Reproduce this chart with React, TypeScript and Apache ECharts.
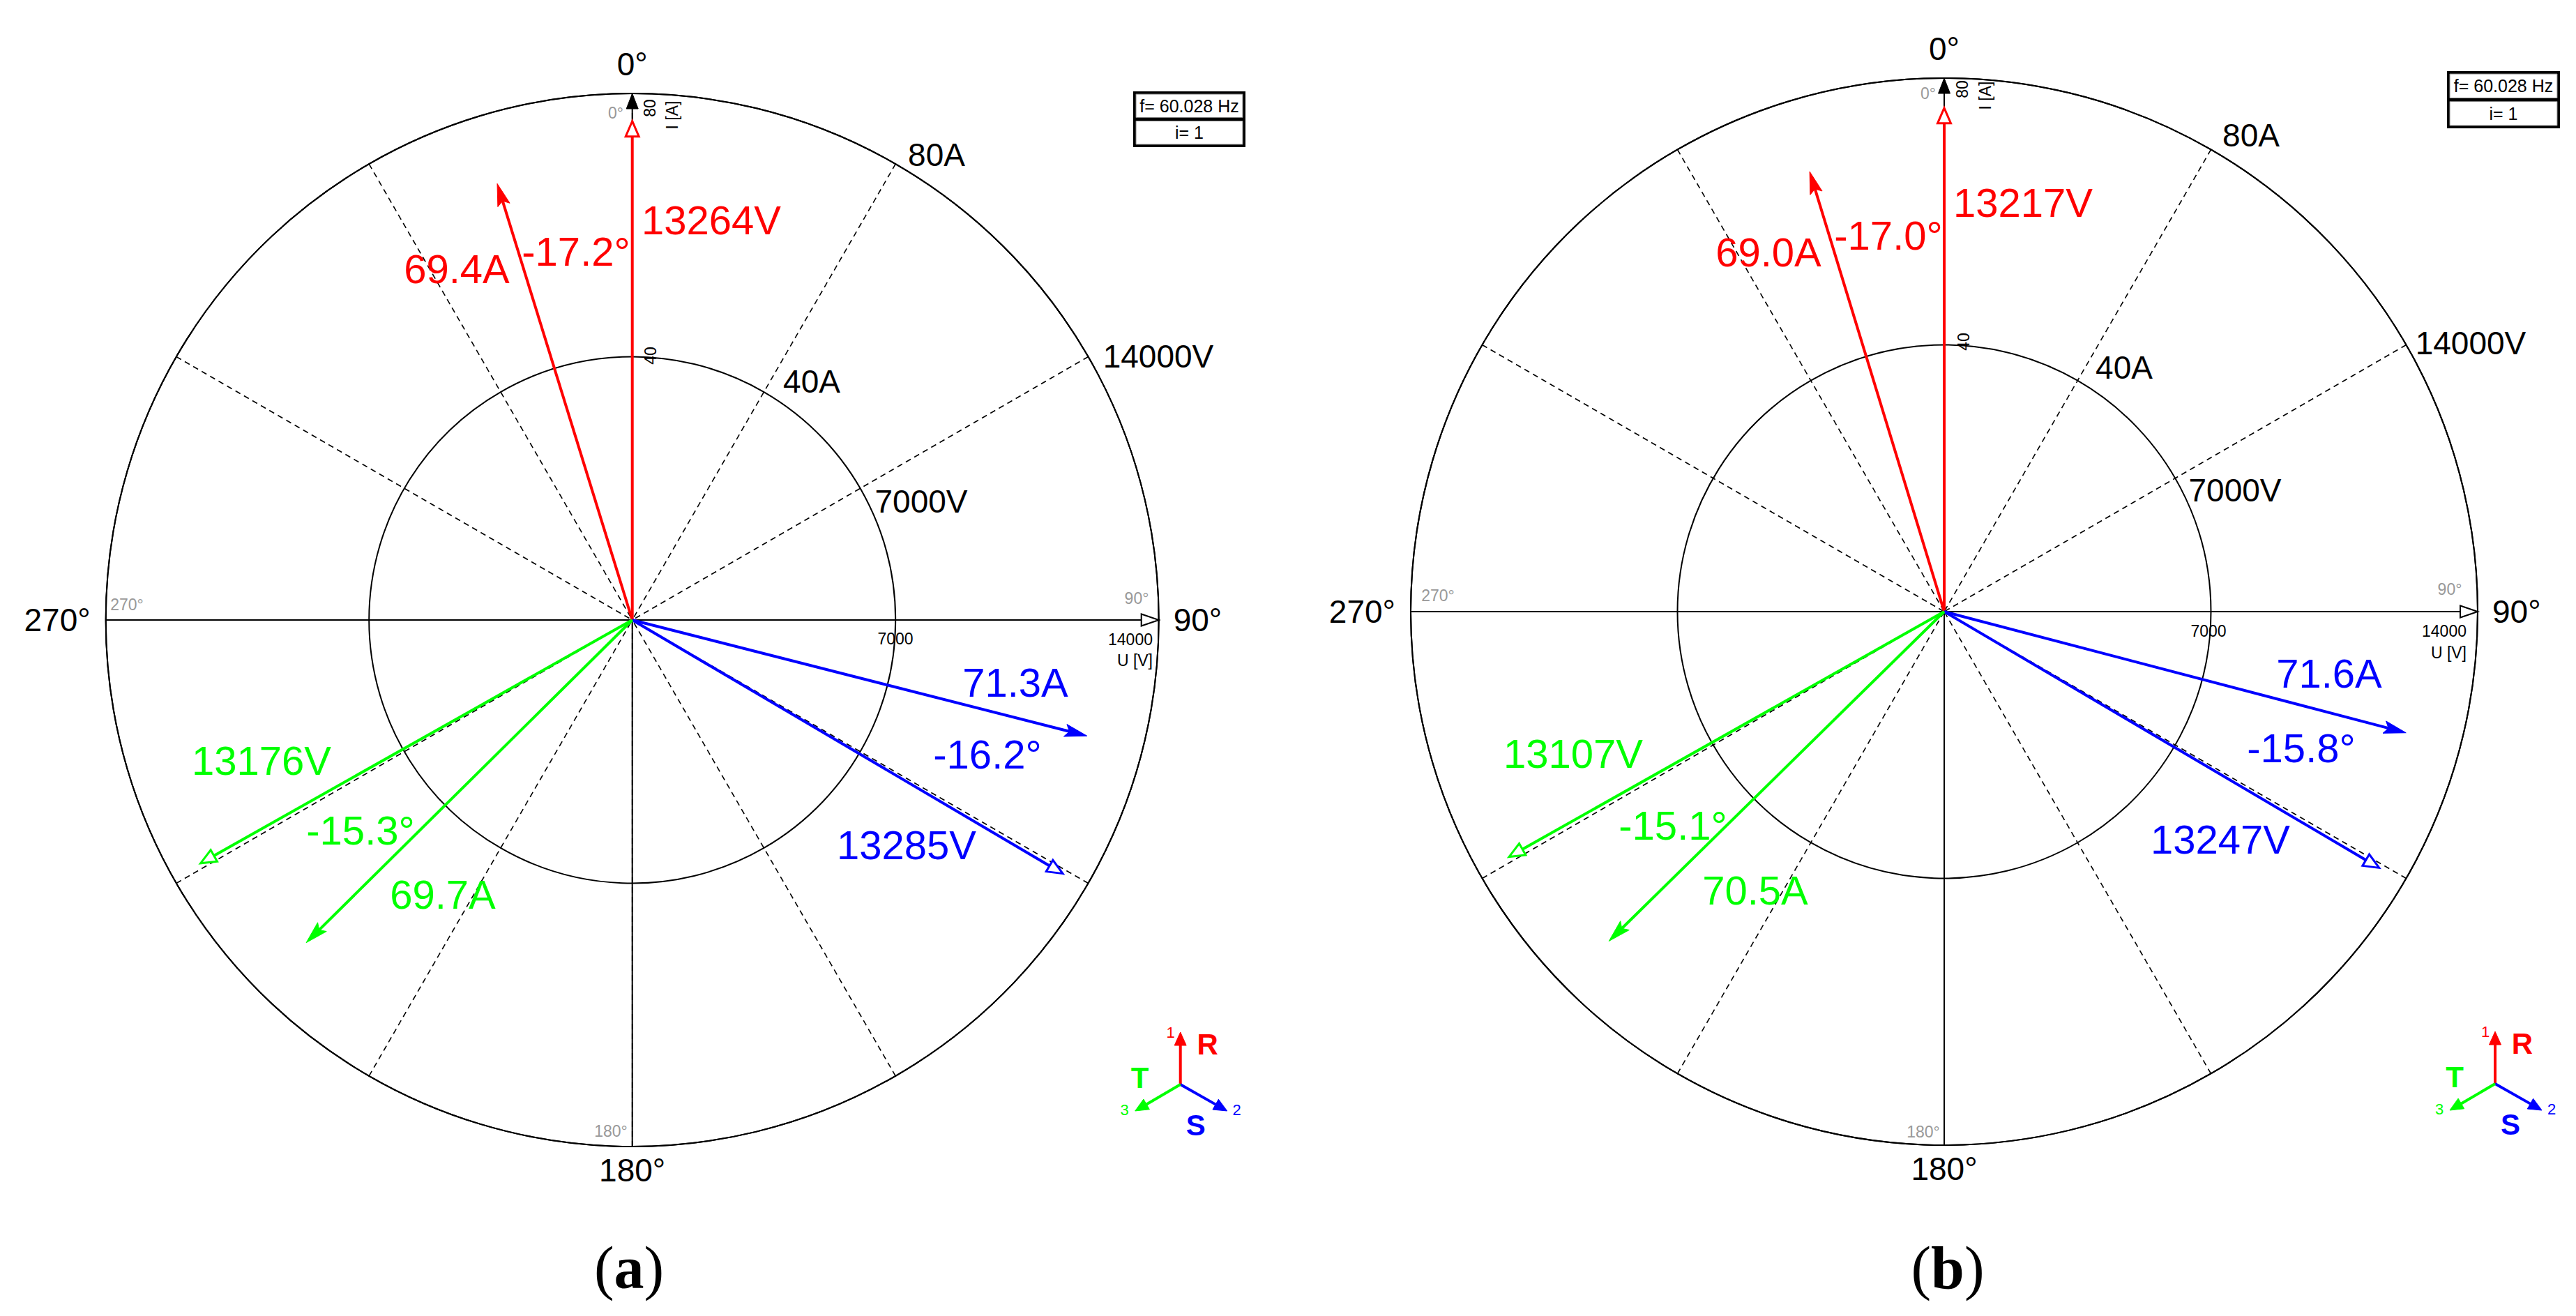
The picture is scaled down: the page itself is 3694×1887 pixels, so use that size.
import React, { useEffect, useRef } from 'react';
import * as echarts from 'echarts';

// ---------------- data ----------------
const PHASES = ['R', 'S', 'T'];
const PHASE_NUMBERS = ['1', '2', '3'];
const VOLT_MAX = 14000;
const AMP_MAX = 80;
const voltageTicks = [7000, 14000];
const currentTicks = [40, 80];
const angleTicks = [0, 90, 180, 270];

// panel (a)
const voltageA = [13264, 13285, 13176];
const voltageAngleA = [0, 120.5, 240.6];
const currentA = [69.4, 71.3, 69.7];
const phaseShiftA = [-17.2, -16.2, -15.3];
// panel (b)
const voltageB = [13217, 13247, 13107];
const voltageAngleB = [0, 120.5, 240.6];
const currentB = [69.0, 71.6, 70.5];
const phaseShiftB = [-17.0, -15.8, -15.1];

const freqLabel = 'f= 60.028 Hz';
const indexLabel = 'i= 1';
const captions = ['a', 'b'];

// ---------------- style / layout ----------------
const SANS = "'Liberation Sans', Arial, Helvetica, sans-serif";
const SERIF = "'Liberation Serif', 'Times New Roman', serif";
const PHASE_COLORS = ['#ff0000', '#0000ff', '#00ff00'];
const GREY = '#999999';

type XY = [number, number];
type Panel = {
  center: XY; radius: number;
  volt: number[]; voltAng: number[]; amp: number[]; shift: number[];
  voltLabelPos: XY[]; ampLabelPos: XY[]; shiftLabelPos: XY[];
  a80: XY; a40: XY; v14: XY; v7: XY;
  greyPos: XY[]; ampTickPos: XY[]; ampUnitPos: XY;
  volt7Pos: XY; volt14Pos: XY; voltUnitPos: XY;
  legend: XY; box: [number, number, number, number]; caption: XY;
};

const PANELS: Panel[] = [
  {
    center: [906.7, 889], radius: 755,
    volt: voltageA, voltAng: voltageAngleA, amp: currentA, shift: phaseShiftA,
    voltLabelPos: [[1020, 315], [1300, 1211], [375, 1090]],
    ampLabelPos: [[655, 385], [1456, 978], [635, 1282]],
    shiftLabelPos: [[826, 360], [1416, 1081], [517, 1190]],
    a80: [1343, 222], a40: [1164, 547], v14: [1661, 511], v7: [1321, 719],
    greyPos: [[883, 162], [1630, 858], [876, 1622], [182, 867]],
    ampTickPos: [[933, 510], [932, 155]], ampUnitPos: [964, 165],
    volt7Pos: [1284, 916], volt14Pos: [1653, 917], voltUnitPos: [1653, 947],
    legend: [1692.7, 1555], box: [1625, 131, 161, 80], caption: [902, 1818],
  },
  {
    center: [2788, 877], radius: 765,
    volt: voltageB, voltAng: voltageAngleB, amp: currentB, shift: phaseShiftB,
    voltLabelPos: [[2901, 290], [3184, 1203], [2256, 1080]],
    ampLabelPos: [[2536, 361], [3340, 965], [2517, 1276]],
    shiftLabelPos: [[2708, 337], [3300, 1072], [2399, 1183]],
    a80: [3228, 194], a40: [3046, 527], v14: [3543, 492], v7: [3205, 703],
    greyPos: [[2765, 134], [3513, 845], [2758, 1623], [2062, 854]],
    ampTickPos: [[2816, 490], [2814, 128]], ampUnitPos: [2847, 137],
    volt7Pos: [3167, 905], volt14Pos: [3537, 905], voltUnitPos: [3537, 936],
    legend: [3578, 1554], box: [3509, 102, 162, 82], caption: [2793, 1818],
  },
];

const norm = (a: number) => ((a % 360) + 360) % 360;

// arrow helper: returns shaft end and head polygon
function arrowGeom(x1: number, y1: number, x2: number, y2: number, L: number, W: number, notch: number) {
  const dx = x2 - x1, dy = y2 - y1;
  const len = Math.hypot(dx, dy) || 1;
  const ux = dx / len, uy = dy / len;
  const nx = -uy, ny = ux;
  const bx = x2 - L * ux, by = y2 - L * uy;
  const pts: number[][] = notch > 0
    ? [[x2, y2], [bx + W * nx, by + W * ny], [x2 - (L - notch) * ux, y2 - (L - notch) * uy], [bx - W * nx, by - W * ny]]
    : [[x2, y2], [bx + W * nx, by + W * ny], [bx - W * nx, by - W * ny]];
  const shaftEnd = notch > 0 ? [x2 - (L - notch - 1) * ux, y2 - (L - notch - 1) * uy] : [bx, by];
  return { pts, shaftEnd };
}

function phasorRender(kind: 'filled' | 'hollow') {
  return (params: any, api: any) => {
    const r = api.value(0), ang = api.value(1), i = api.value(2);
    const color = PHASE_COLORS[i];
    const c = api.coord([0, ang]);
    const t = api.coord([r, ang]);
    const g = kind === 'filled'
      ? arrowGeom(c[0], c[1], t[0], t[1], 32, 9, 6)
      : arrowGeom(c[0], c[1], t[0], t[1], 22, 9.5, 0);
    return {
      type: 'group',
      children: [
        { type: 'line', shape: { x1: c[0], y1: c[1], x2: g.shaftEnd[0], y2: g.shaftEnd[1] }, style: { stroke: color, lineWidth: 4 } },
        {
          type: 'polygon', shape: { points: g.pts },
          style: kind === 'filled'
            ? { fill: color, stroke: color, lineWidth: 1 }
            : { fill: '#ffffff', stroke: color, lineWidth: 3, lineJoin: 'miter' },
        },
      ],
    };
  };
}

function axesRender(params: any, api: any) {
  const r = api.value(0), ang = api.value(1), head = api.value(2);
  const c = api.coord([0, ang]);
  const t = api.coord([r, ang]);
  const children: any[] = [
    { type: 'line', shape: { x1: c[0], y1: c[1], x2: t[0], y2: t[1] }, style: { stroke: '#000', lineWidth: 2 } },
  ];
  if (head === 1) {
    const g = arrowGeom(c[0], c[1], t[0], t[1], 22, 8.5, 0);
    children.push({ type: 'polygon', shape: { points: g.pts }, style: { fill: '#000', stroke: '#000', lineWidth: 1 } });
  } else if (head === 2) {
    const g = arrowGeom(c[0], c[1], t[0], t[1], 25, 8.5, 0);
    children.push({ type: 'polygon', shape: { points: g.pts }, style: { fill: '#fff', stroke: '#000', lineWidth: 2 } });
  }
  return { type: 'group', children };
}

const txt = (x: number, y: number, text: string, size: number, fill: string, o: any = {}) => ({
  type: 'text', x, y, rotation: o.rotation || 0, z: 20, silent: true,
  style: {
    text, fontSize: size, fontFamily: o.family || SANS, fontWeight: o.weight || 'normal',
    fill, align: o.align || 'center', verticalAlign: 'middle',
  },
});

const LEGEND_ARMS = [
  { tip: [0, -75], label: [39, -58], num: [-14, -75] },
  { tip: [67, 38], label: [22, 58], num: [81, 36] },
  { tip: [-65, 38], label: [-58, -10], num: [-80, 36] },
];

function legendGraphic(ox: number, oy: number) {
  const els: any[] = [];
  LEGEND_ARMS.forEach((arm, i) => {
    const color = PHASE_COLORS[i];
    const g = arrowGeom(ox, oy, ox + arm.tip[0], oy + arm.tip[1], 19, 8.5, 0);
    els.push({ type: 'line', z: 20, shape: { x1: ox, y1: oy, x2: g.shaftEnd[0], y2: g.shaftEnd[1] }, style: { stroke: color, lineWidth: 4 } });
    els.push({ type: 'polygon', z: 20, shape: { points: g.pts }, style: { fill: color, stroke: color, lineWidth: 1 } });
    els.push(txt(ox + arm.label[0], oy + arm.label[1], PHASES[i], 42, color, { weight: 'bold' }));
    els.push(txt(ox + arm.num[0], oy + arm.num[1], PHASE_NUMBERS[i], 22, color));
  });
  return els;
}

function buildOption() {
  const polar: any[] = [];
  const angleAxis: any[] = [];
  const radiusAxis: any[] = [];
  const series: any[] = [];
  const graphic: any[] = [];
  const richBase = { fontSize: 46, fontFamily: SANS, color: '#000' };

  PANELS.forEach((p, k) => {
    const vi = k * 2, ai = k * 2 + 1;
    polar.push({ center: p.center, radius: p.radius }, { center: p.center, radius: p.radius });
    angleAxis.push(
      {
        polarIndex: vi, type: 'value', min: 0, max: 360, interval: 30, startAngle: 90, clockwise: true,
        axisLine: { show: true, lineStyle: { color: '#000', width: 2 } },
        axisTick: { show: false },
        splitLine: { show: true, lineStyle: { color: '#000', width: 1.6, type: [8, 6] } },
        axisLabel: {
          show: true, margin: 11, color: '#000', fontSize: 46, fontFamily: SANS,
          formatter: (v: number) => {
            const idx = angleTicks.indexOf(v);
            if (idx < 0) return '';
            return `{${['t', 'r', 'b', 'l'][idx]}|${v}°}`;
          },
          rich: {
            t: { ...richBase, padding: [0, 0, 8, 0] },
            r: { ...richBase, padding: [0, 0, 0, 10] },
            b: { ...richBase },
            l: { ...richBase, padding: [0, 11, 0, 0] },
          },
        },
      },
      {
        polarIndex: ai, type: 'value', min: 0, max: 360, startAngle: 90, clockwise: true,
        axisLine: { show: false }, axisTick: { show: false }, axisLabel: { show: false }, splitLine: { show: false },
      },
    );
    radiusAxis.push(
      {
        polarIndex: vi, type: 'value', min: 0, max: VOLT_MAX, interval: voltageTicks[0],
        axisLine: { show: false }, axisTick: { show: false }, axisLabel: { show: false },
        splitLine: { show: true, lineStyle: { color: '#000', width: 2 } },
      },
      {
        polarIndex: ai, type: 'value', min: 0, max: AMP_MAX, interval: currentTicks[0],
        axisLine: { show: false }, axisTick: { show: false }, axisLabel: { show: false }, splitLine: { show: false },
      },
    );

    series.push({
      type: 'custom', coordinateSystem: 'polar', polarIndex: vi, silent: true, z: 3,
      data: [[VOLT_MAX, 0, 1], [VOLT_MAX, 90, 2], [VOLT_MAX, 180, 0], [VOLT_MAX, 270, 0]],
      renderItem: axesRender,
    });
    series.push({
      type: 'custom', coordinateSystem: 'polar', polarIndex: vi, silent: true, z: 5,
      data: p.volt.map((v, i) => [v, norm(p.voltAng[i]), i]),
      renderItem: phasorRender('hollow'),
    });
    series.push({
      type: 'custom', coordinateSystem: 'polar', polarIndex: ai, silent: true, z: 5,
      data: p.amp.map((a, i) => [a, norm(p.voltAng[i] + p.shift[i]), i]),
      renderItem: phasorRender('filled'),
    });

    // phasor labels
    PHASES.forEach((_, i) => {
      const col = PHASE_COLORS[i];
      graphic.push(txt(p.voltLabelPos[i][0], p.voltLabelPos[i][1], `${p.volt[i]}V`, 58, col));
      graphic.push(txt(p.ampLabelPos[i][0], p.ampLabelPos[i][1], `${p.amp[i].toFixed(1)}A`, 58, col));
      graphic.push(txt(p.shiftLabelPos[i][0], p.shiftLabelPos[i][1], `${p.shift[i].toFixed(1)}°`, 58, col));
    });

    // scale labels
    graphic.push(txt(p.a80[0], p.a80[1], `${currentTicks[1]}A`, 46, '#000'));
    graphic.push(txt(p.a40[0], p.a40[1], `${currentTicks[0]}A`, 46, '#000'));
    graphic.push(txt(p.v14[0], p.v14[1], `${voltageTicks[1]}V`, 46, '#000'));
    graphic.push(txt(p.v7[0], p.v7[1], `${voltageTicks[0]}V`, 46, '#000'));

    // small grey angle labels
    angleTicks.forEach((a, i) => graphic.push(txt(p.greyPos[i][0], p.greyPos[i][1], `${a}°`, 23, GREY)));

    // small axis tick labels
    graphic.push(txt(p.ampTickPos[0][0], p.ampTickPos[0][1], `${currentTicks[0]}`, 23, '#000', { rotation: Math.PI / 2 }));
    graphic.push(txt(p.ampTickPos[1][0], p.ampTickPos[1][1], `${currentTicks[1]}`, 23, '#000', { rotation: Math.PI / 2 }));
    graphic.push(txt(p.ampUnitPos[0], p.ampUnitPos[1], 'I [A]', 23, '#000', { rotation: Math.PI / 2 }));
    graphic.push(txt(p.volt7Pos[0], p.volt7Pos[1], `${voltageTicks[0]}`, 23, '#000'));
    graphic.push(txt(p.volt14Pos[0], p.volt14Pos[1], `${voltageTicks[1]}`, 23, '#000', { align: 'right' }));
    graphic.push(txt(p.voltUnitPos[0], p.voltUnitPos[1], 'U [V]', 23, '#000', { align: 'right' }));

    // info box
    const [bx, by, bw, bh] = p.box;
    graphic.push({ type: 'rect', z: 15, silent: true, shape: { x: bx, y: by, width: bw, height: bh }, style: { fill: '#000' } });
    const cellH = (bh - 13) / 2;
    graphic.push({ type: 'rect', z: 16, silent: true, shape: { x: bx + 4, y: by + 4, width: bw - 8, height: cellH }, style: { fill: '#fff', stroke: '#808080', lineWidth: 1 } });
    graphic.push({ type: 'rect', z: 16, silent: true, shape: { x: bx + 4, y: by + 9 + cellH, width: bw - 8, height: cellH }, style: { fill: '#fff', stroke: '#808080', lineWidth: 1 } });
    graphic.push(txt(bx + bw / 2, by + 4 + cellH / 2, freqLabel, 25, '#000'));
    graphic.push(txt(bx + bw / 2, by + 9 + cellH * 1.5, indexLabel, 25, '#000'));

    // legend
    graphic.push(...legendGraphic(p.legend[0], p.legend[1]));

    // caption
    graphic.push({
      type: 'text', x: p.caption[0], y: p.caption[1], z: 20, silent: true,
      style: {
        text: `{p|(}{l|${captions[k]}}{p|)}`, align: 'center', verticalAlign: 'middle',
        rich: {
          p: { fontFamily: SERIF, fontSize: 86, fill: '#000' },
          l: { fontFamily: SERIF, fontSize: 86, fontWeight: 'bold', fill: '#000' },
        },
      },
    });
  });

  return {
    animation: false,
    backgroundColor: '#ffffff',
    polar, angleAxis, radiusAxis, series, graphic,
  };
}

export default function App() {
  const ref = useRef<HTMLDivElement>(null);
  useEffect(() => {
    if (!ref.current) return;
    const chart = echarts.init(ref.current, undefined, { renderer: 'svg' });
    chart.setOption(buildOption() as any);
    return () => chart.dispose();
  }, []);
  return (
    <div
      ref={ref}
      style={{ position: 'fixed', left: 0, top: 0, width: 3694, height: 1887, background: '#ffffff' }}
    />
  );
}
